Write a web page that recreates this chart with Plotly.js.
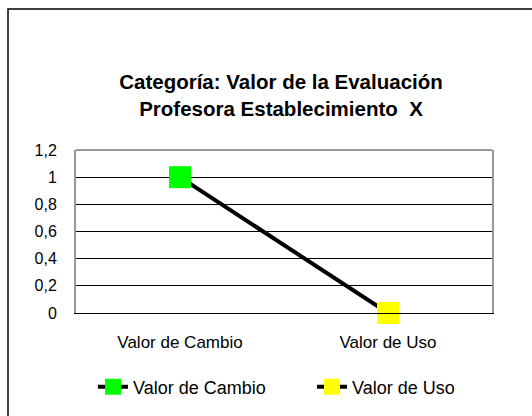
<!DOCTYPE html>
<html>
<head>
<meta charset="utf-8">
<script src="https://cdn.plot.ly/plotly-3.0.1.min.js"></script>
<style>html,body{margin:0;padding:0;background:#fff;}#chart{width:532px;height:416px;}</style>
</head>
<body>
<div id="chart"></div>
<script>
const categories = ['Valor de Cambio', 'Valor de Uso'];
const values = [1, 0];
const seriesNames = ['Valor de Cambio', 'Valor de Uso'];
const markerColors = ['#00FF00', '#FFFF00'];
const yTicks = [0, 0.2, 0.4, 0.6, 0.8, 1, 1.2];

const font = 'Liberation Sans, Arial, sans-serif';

const traces = [{
  x: categories, y: values, type: 'scatter', mode: 'lines', cliponaxis: false,
  line: {color: '#000', width: 4}, showlegend: false, hoverinfo: 'skip'
}];
categories.forEach((c, i) => {
  traces.push({
    x: [c], y: [values[i]], type: 'scatter', mode: 'lines+markers', cliponaxis: false,
    name: seriesNames[i], legend: i === 0 ? 'legend' : 'legend2',
    line: {color: '#000', width: 4},
    marker: {symbol: 'square', size: 22, color: markerColors[i], line: {width: 0}}
  });
});

const W = 532, H = 416, L = 76, R = 40, T = 150, B = 103;
const pw = W - L - R, ph = H - T - B;
const px = v => (v - L) / pw;
const py = v => (H - B - v) / ph;

const legendBase = {
  orientation: 'h', xref: 'container', yref: 'container',
  xanchor: 'left', y: 1 - 387 / H, yanchor: 'middle',
  font: {family: font, size: 18, color: '#000'},
  bgcolor: 'rgba(0,0,0,0)', borderwidth: 0, itemclick: false
};

const layout = {
  width: W, height: H,
  margin: {l: L, r: R, t: T, b: B, pad: 0},
  paper_bgcolor: '#fff', plot_bgcolor: '#fff',
  separators: ',.',
  font: {family: font, color: '#000'},
  title: {
    text: 'Categoría: Valor de la Evaluación<br>Profesora Establecimiento \u00a0X',
    font: {family: font, size: 20.5, color: '#000', weight: 'bold'},
    x: 281 / W, xref: 'container', xanchor: 'center',
    y: 1 - 89 / H, yref: 'container', yanchor: 'top'
  },
  xaxis: {
    type: 'category', range: [-0.5, 1.5], showgrid: false, zeroline: false,
    showline: true, linecolor: '#000', linewidth: 1,
    ticks: 'outside', ticklen: 14, tickcolor: 'rgba(0,0,0,0)',
    tickfont: {family: font, size: 17, color: '#000'}
  },
  yaxis: {
    range: [0, 1.2], tickvals: yTicks, showgrid: true, gridcolor: '#000', gridwidth: 1,
    zeroline: false, showline: true, mirror: true, linecolor: '#999', linewidth: 2,
    ticks: 'outside', ticklen: 14, tickcolor: 'rgba(0,0,0,0)',
    tickfont: {family: font, size: 16, color: '#000'}
  },
  showlegend: true,
  legend: Object.assign({}, legendBase, {x: 93 / W}),
  legend2: Object.assign({}, legendBase, {x: 312 / W}),
  shapes: [
    {type: 'line', xref: 'paper', yref: 'paper', x0: 0, x1: 1, y0: 1, y1: 1,
     line: {color: '#999', width: 2}, layer: 'above'},
    {type: 'rect', xref: 'paper', yref: 'paper', x0: px(8), x1: px(560), y0: py(9), y1: py(440),
     line: {color: '#000', width: 1.5}, fillcolor: 'rgba(0,0,0,0)', layer: 'below'}
  ]
};

Plotly.newPlot('chart', traces, layout, {displayModeBar: false, staticPlot: true});
</script>
</body>
</html>
